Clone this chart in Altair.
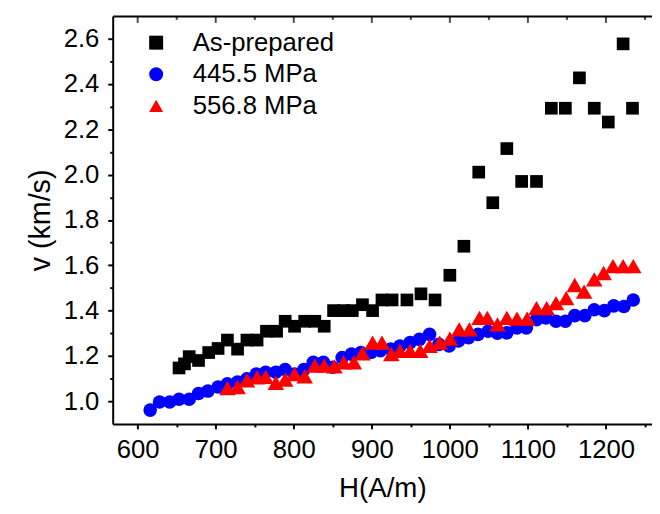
import altair as alt
import pandas as pd

series_names = ["As-prepared", "445.5 MPa", "556.8 MPa"]
series_colors = ["#000000", "#0000ff", "#ff0000"]
series_shapes = ["square", "circle", "triangle-up"]
series_sizes = [165, 190, 280]

h_asprep = [653, 660, 666, 678, 691, 703, 715, 728, 740, 753, 765, 778, 789, 801, 814,
            827, 839, 851, 864, 875, 888, 901, 913, 926, 945, 963, 981, 1000, 1018,
            1037, 1055, 1073, 1092, 1111, 1130, 1148, 1166, 1185, 1203, 1222, 1234]
v_asprep = [1.147, 1.165, 1.197, 1.180, 1.215, 1.233, 1.270, 1.230, 1.270, 1.270, 1.309,
            1.309, 1.353, 1.331, 1.353, 1.353, 1.331, 1.400, 1.400, 1.400, 1.426, 1.400,
            1.447, 1.447, 1.447, 1.474, 1.447, 1.556, 1.684, 2.011, 1.876, 2.115, 1.970,
            1.970, 2.293, 2.293, 2.427, 2.293, 2.232, 2.577, 2.293]

h_445 = [616, 628, 641, 653, 666, 678, 690, 703, 715, 728, 740, 752, 764, 777, 789, 801,
         813, 825, 838, 850, 862, 874, 886, 899, 911, 924, 936, 949, 961, 974, 986, 999,
         1011, 1024, 1036, 1049, 1061, 1073, 1086, 1098, 1111, 1123, 1136, 1148, 1160,
         1173, 1185, 1198, 1210, 1223, 1235]
v_445 = [0.961, 0.997, 0.997, 1.009, 1.009, 1.034, 1.045, 1.063, 1.077, 1.085, 1.099,
         1.120, 1.128, 1.128, 1.140, 1.120, 1.140, 1.172, 1.172, 1.150, 1.193, 1.208,
         1.215, 1.215, 1.223, 1.230, 1.244, 1.259, 1.273, 1.295, 1.251, 1.244, 1.266,
         1.280, 1.295, 1.309, 1.300, 1.302, 1.324, 1.324, 1.360, 1.368, 1.353, 1.353,
         1.378, 1.378, 1.404, 1.400, 1.421, 1.418, 1.447]

h_556 = [715, 728, 740, 753, 764, 777, 789, 801, 814, 827, 839, 852, 864, 877, 888, 901,
         913, 925, 936, 949, 962, 974, 987, 1000, 1012, 1025, 1038, 1048, 1061, 1073,
         1086, 1099, 1111, 1124, 1136, 1149, 1160, 1172, 1185, 1197, 1209, 1222, 1235]
v_556 = [1.058, 1.063, 1.092, 1.106, 1.108, 1.081, 1.096, 1.120, 1.110, 1.157, 1.157,
         1.154, 1.172, 1.172, 1.212, 1.259, 1.259, 1.208, 1.222, 1.222, 1.222, 1.244,
         1.259, 1.276, 1.317, 1.317, 1.368, 1.368, 1.339, 1.368, 1.365, 1.365, 1.411,
         1.411, 1.433, 1.455, 1.513, 1.484, 1.538, 1.566, 1.596, 1.596, 1.596]

x_ticks = [600, 650, 700, 750, 800, 850, 900, 950, 1000, 1050, 1100, 1150, 1200, 1250]
y_ticks = [1.0, 1.1, 1.2, 1.3, 1.4, 1.5, 1.6, 1.7, 1.8, 1.9, 2.0, 2.1, 2.2, 2.3, 2.4, 2.5, 2.6]

rows = []
for name, sz, hs, vs in zip(series_names, series_sizes,
                            [h_asprep, h_445, h_556], [v_asprep, v_445, v_556]):
    for h, v in zip(hs, vs):
        rows.append({"H": h, "v": v, "series": name, "sz": sz})
df = pd.DataFrame(rows)
ticks_df = pd.DataFrame({"t": x_ticks})

FONT = "Liberation Sans"
x_scale = alt.Scale(domain=[568, 1259], nice=False, zero=False)
y_scale = alt.Scale(domain=[0.9, 2.7], nice=False, zero=False)

legend = alt.Legend(
    title=None, orient="none", legendX=31, legendY=14, padding=0,
    labelFontSize=26, labelFont=FONT, labelColor="black", labelOffset=24,
    rowPadding=6, symbolStrokeWidth=0, symbolSize=200,
)

points = alt.Chart(df).mark_point(filled=True, opacity=1, strokeWidth=0).encode(
    x=alt.X("H:Q", scale=x_scale, axis=alt.Axis(
        values=x_ticks, title="H(A/m)", titleFontSize=28, titleFont=FONT,
        titleFontWeight="normal", titlePadding=12, format="d",
        labelExpr="datum.value % 100 === 0 ? datum.label : ''",
        labelFontSize=26, labelFont=FONT, labelPadding=8, labelOverlap=False,
        labelFlush=False,
        tickSize={"condition": {"test": "datum.value % 100 === 0", "value": 5}, "value": 3},
    )),
    y=alt.Y("v:Q", scale=y_scale, axis=alt.Axis(
        values=y_ticks, title="v (km/s)", titleFontSize=29, titleFont=FONT,
        titleFontWeight="normal", titlePadding=8, format=".1f",
        labelExpr="round(datum.value * 10) % 2 === 0 ? datum.label : ''",
        labelFontSize=26, labelFont=FONT, labelPadding=9, labelOverlap=False,
        labelFlush=False,
        tickSize={"condition": {"test": "round(datum.value * 10) % 2 === 0", "value": 5}, "value": 3},
    )),
    color=alt.Color("series:N", scale=alt.Scale(domain=series_names, range=series_colors), legend=legend),
    shape=alt.Shape("series:N", scale=alt.Scale(domain=series_names, range=series_shapes), legend=legend),
    size=alt.Size("sz:Q", scale=None, legend=None),
)

top_major = alt.Chart(ticks_df).transform_filter("datum.t % 100 === 0").mark_tick(
    color="black", thickness=2, size=7
).encode(
    x=alt.X("t:Q", scale=x_scale, axis=alt.Axis(
        orient="top", labels=False, ticks=False, domain=True, title=None, grid=False)),
    y=alt.value(3.5),
)

top_minor = alt.Chart(ticks_df).transform_filter("datum.t % 100 !== 0").mark_tick(
    color="black", thickness=2, size=4
).encode(
    x=alt.X("t:Q", scale=x_scale, axis=None),
    y=alt.value(2),
)

chart = alt.layer(points, top_major, top_minor).resolve_axis(x="independent").properties(
    width=546, height=413,
    padding={"left": 106, "top": 5, "right": 0, "bottom": 80},
    autosize=alt.AutoSizeParams(type="none"),
).configure_view(stroke=None).configure_axis(
    domainColor="black", domainWidth=2, tickColor="black", tickWidth=2,
    labelColor="black", titleColor="black", grid=False,
)

chart.save("out.html", embed_options={"renderer": "svg", "actions": False})
